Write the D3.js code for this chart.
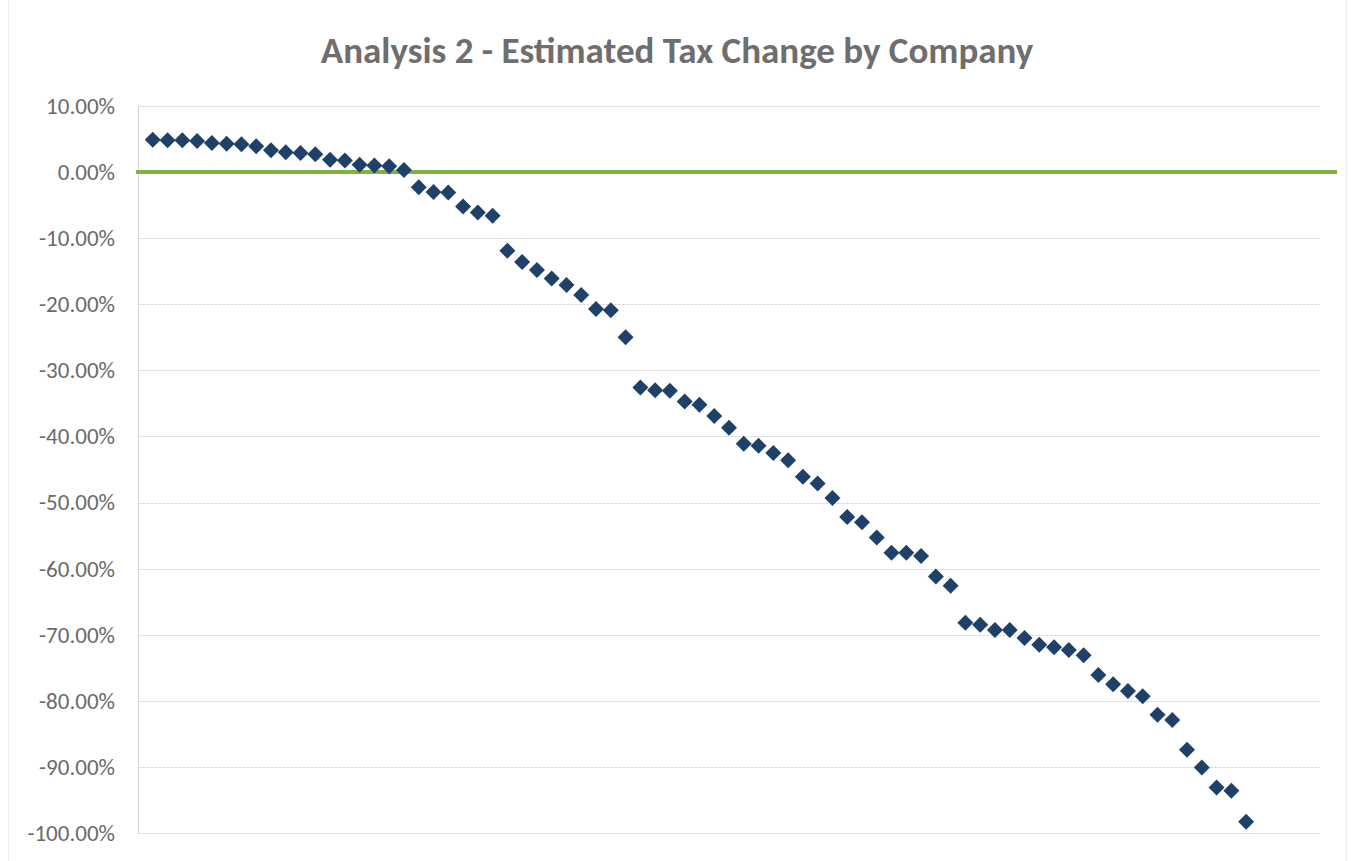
<!DOCTYPE html>
<html>
<head>
<meta charset="utf-8">
<script src="https://cdn.jsdelivr.net/npm/d3@7"></script>
<style>
  body { margin: 0; background: #fff; }
  #chart svg { display: block; }
</style>
</head>
<body>
<div id="chart"></div>
<script>
// Estimated tax change per company (%), companies numbered 1..75
const companies = d3.range(1, 76);
const taxChange = [
    4.9, 4.8, 4.8, 4.7, 4.4, 4.3, 4.2, 3.9, 3.3, 3.0,
    2.9, 2.7, 1.85, 1.75, 1.1, 1.0, 0.9, 0.3, -2.3, -3.0,
    -3.1, -5.2, -6.1, -6.6, -11.9, -13.6, -14.8, -16.1, -17.1, -18.6,
    -20.7, -20.9, -25.0, -32.6, -33.0, -33.1, -34.7, -35.2, -36.9, -38.7,
    -41.1, -41.4, -42.5, -43.6, -46.1, -47.1, -49.3, -52.2, -53.0, -55.3,
    -57.6, -57.6, -58.1, -61.2, -62.6, -68.2, -68.5, -69.3, -69.3, -70.5,
    -71.5, -71.9, -72.3, -73.1, -76.1, -77.5, -78.5, -79.3, -82.1, -82.9,
    -87.4, -90.1, -93.1, -93.6, -98.3
];
const yTicks = [10, 0, -10, -20, -30, -40, -50, -60, -70, -80, -90, -100];
const xDomain = [0, 80];
const chartTitle = "Analysis 2 - Estimated Tax Change by Company";

const W = 1351, H = 861;
const margin = {top: 106, right: 31, bottom: 28, left: 138};
const width = W - margin.left - margin.right;
const height = H - margin.top - margin.bottom;
const fontFamily = "Carlito, Calibri, Lato, 'Open Sans', sans-serif";

const svg = d3.select("#chart")
    .append("svg")
    .attr("width", W)
    .attr("height", H);

// faint outer border of the chart frame
svg.append("rect")
    .attr("x", 8.5).attr("y", -2)
    .attr("width", W - 13).attr("height", H + 4)
    .attr("fill", "none")
    .attr("stroke", "#ececec");

svg.append("text")
    .attr("x", 677)
    .attr("y", 63)
    .attr("text-anchor", "middle")
    .style("font-family", fontFamily)
    .style("font-size", "37px")
    .style("font-weight", "bold")
    .style("fill", "#6e6e6e")
    .text(chartTitle);

const g = svg.append("g")
    .attr("transform", `translate(${margin.left},${margin.top})`);

const x = d3.scaleLinear().domain(xDomain).range([0, width]);
const y = d3.scaleLinear().domain([-100, 10]).range([height, 0]);

// horizontal gridlines
g.append("g")
    .selectAll("line")
    .data(yTicks)
    .join("line")
    .attr("x1", 0)
    .attr("x2", width)
    .attr("y1", d => Math.round(y(d)) + 0.5)
    .attr("y2", d => Math.round(y(d)) + 0.5)
    .attr("stroke", "#d9d9d9")
    .attr("stroke-dasharray", "3,1");

// vertical axis line
g.append("line")
    .attr("x1", 0.5).attr("x2", 0.5)
    .attr("y1", y(10)).attr("y2", y(-100))
    .attr("stroke", "#d6d6d6");

// y axis labels (plain hyphen for negatives, like Excel)
const yAxis = g.append("g")
    .call(d3.axisLeft(y)
        .tickValues(yTicks)
        .tickSize(0)
        .tickPadding(23)
        .tickFormat(d => d.toFixed(2) + "%"));
yAxis.select(".domain").remove();
yAxis.selectAll("text")
    .style("font-family", fontFamily)
    .style("font-size", "23px")
    .style("fill", "#6a6a6a");

// zero reference line
g.append("line")
    .attr("x1", x(0) - 2)
    .attr("x2", width + 17)
    .attr("y1", y(0))
    .attr("y2", y(0))
    .attr("stroke", "#7cb342")
    .attr("stroke-width", 4);

// diamond markers
const diamond = d3.symbol().type(d3.symbolSquare).size(128);
g.append("g")
    .selectAll("path")
    .data(companies)
    .join("path")
    .attr("d", diamond)
    .attr("transform", (d, i) => `translate(${x(d)},${y(taxChange[i])}) rotate(45)`)
    .attr("fill", "#1f4169");
</script>
</body>
</html>
